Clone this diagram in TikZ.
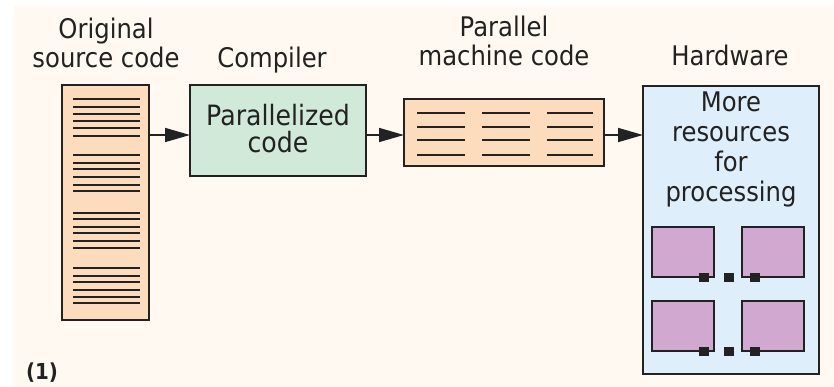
\documentclass[tikz,border=0pt]{standalone}
\usepackage{fontspec}
\setmainfont{DejaVu Sans}[FakeStretch=0.9]
\usetikzlibrary{arrows.meta}

\definecolor{paper}{HTML}{FFF9F1}
\definecolor{peach}{HTML}{FDDCBD}
\definecolor{mint}{HTML}{D0E9D8}
\definecolor{sky}{HTML}{DEEFFB}
\definecolor{lilac}{HTML}{D0A8D0}
\definecolor{ink}{HTML}{222222}

\begin{document}
\begin{tikzpicture}[x=1pt,y=-1pt,
  box/.style={draw=ink, line width=1.8pt, inner sep=0pt, outer sep=0pt},
  heading/.style={font=\fontsize{27}{29}\selectfont, align=center, text=ink, inner sep=0pt},
  boxtext/.style={align=center, text=ink, inner sep=0pt},
  codeline/.style={draw=ink, line width=1.8pt},
  thinline/.style={draw=ink, line width=1.5pt},
  flow/.style={draw=ink, line width=1.6pt, -{Triangle[length=25pt,width=14pt]}},
  unit/.style={box, fill=lilac, minimum width=62pt, minimum height=50pt},
  port/.style={fill=ink, inner sep=0pt, minimum width=10pt, minimum height=9pt},
]
\useasboundingbox (0,0) rectangle (834,387);
\fill[white] (0,0) rectangle (834,387);
\fill[paper] (14,6) rectangle (834,387);

% column headings
\node[heading, anchor=south] (hsrc) at (106,68) {Original\\source code};
\node[heading, anchor=base] (hcomp) at (272,68) {Compiler};
\node[heading, anchor=south] (hmach) at (504,66) {Parallel\\machine code};
\node[heading, anchor=base] (hhw) at (730,66) {Hardware};

% original source code listing
\node[box, fill=peach, minimum width=87pt, minimum height=235pt] (src) at (105.5,202.5) {};
\foreach \yy in {99,107,114,121,128,136,
                 155,163,169,177,185,191,
                 213,219,227,233,241,248,
                 268,276,282,290,297,303}
  \draw[codeline] (73,\yy) -- (140,\yy);

% compiler
\node[box, fill=mint, minimum width=176pt, minimum height=91pt] (comp) at (278,130.5) {};
\node[boxtext, font=\fontsize{28}{27}\selectfont, anchor=south] (comptext) at (278,153.5) {Parallelized\\code};

% parallel machine code
\node[box, fill=peach, minimum width=200pt, minimum height=67pt] (mach) at (504,132.5) {};
\foreach \xa/\xb in {417/465,482/530,547/593}
  \foreach \yy in {113,127,140,155}
    \draw[thinline] (\xa,\yy) -- (\xb,\yy);

% hardware
\node[box, fill=sky, minimum width=176pt, minimum height=288pt] (hw) at (731,230) {};
\node[boxtext, font=\fontsize{27}{30}\selectfont, anchor=north] (hwtext) at (731,92) {More\\resources\\for\\processing};

\node[unit] (u1) at (683,252) {};
\node[unit] (u2) at (773,252) {};
\node[unit] (u3) at (683,326) {};
\node[unit] (u4) at (773,326) {};
\node[port] (p1) at (704,277) {};
\node[port] (p2) at (728.5,277) {};
\node[port] (p3) at (754.5,277) {};
\node[port] (p4) at (704,351) {};
\node[port] (p5) at (728.5,351) {};
\node[port] (p6) at (754.5,351) {};

% flow arrows
\coordinate (lvl) at (0,135);
\draw[flow] (src.east |- lvl) -- (comp.west |- lvl);
\draw[flow] (comp.east |- lvl) -- (mach.west |- lvl);
\draw[flow] (mach.east |- lvl) -- (hw.west |- lvl);

% figure tag
\node[text=ink, inner sep=0pt, font=\fontsize{22}{24}\selectfont\bfseries] (tag) at (42,372.5) {(1)};
\end{tikzpicture}
\end{document}
